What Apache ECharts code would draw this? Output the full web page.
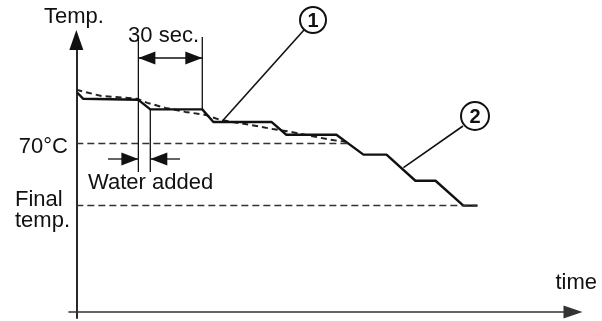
<!DOCTYPE html>
<html>
<head>
<meta charset="utf-8">
<script src="https://cdn.jsdelivr.net/npm/echarts@6/dist/echarts.min.js"></script>
<style>
html,body{margin:0;padding:0;background:#fff}
#chart{width:602px;height:321px}
</style>
</head>
<body>
<div id="chart"></div>
<script>
// time in seconds, temperature in °C
var stepTime = [0.5, 3.3, 29.6, 35.3, 60.1, 65.4, 93.1, 100.2, 124.1, 137.0, 148.0, 161.8, 171.4, 184.7, 191.4];
var stepTemp = [80.0, 78.8, 78.6, 76.7, 76.7, 74.2, 74.2, 71.65, 71.65, 67.7, 67.7, 62.5, 62.5, 57.55, 57.55];
var smoothTime = [0, 11.5, 29.1, 33.9, 42.5, 52.0, 61.6, 68.7, 83.1, 93.6, 102.1, 114.1, 121.2, 128.4];
var smoothTemp = [80.6, 79.4, 78.8, 78.0, 77.0, 76.2, 75.6, 74.6, 73.6, 72.8, 72.25, 71.25, 70.65, 70.26];
var refTemp = 70, refEnd = 129.4;         // 70°C line
var finalTemp = 57.55, finalEnd = 191.4;  // final temp. line
var secMarks = [29.6, 60.1];              // 30 sec.
var waterMarks = [29.6, 35.3];            // water added
var leader1 = [69.7, 74.4];               // where ① points
var leader2 = [156.1, 65.1];              // where ② points

function pairs(xs, ys) {
	var out = [];
	for (var i = 0; i < xs.length; i++) out.push([xs[i], ys[i]]);
	return out;
}

var FONT = '"Liberation Sans", Arial, sans-serif';
var INK = '#111';

var chart = echarts.init(document.getElementById('chart'));
var option = {
	animation: false,
	grid: { left: 69, right: 29, top: 40, bottom: 3 },
	xAxis: {
		type: 'value', min: -3.5, max: 237,
		offset: -6,
		axisLine: { lineStyle: { color: '#333', width: 1.6 }, symbol: ['none', 'triangle'], symbolSize: [13, 19] },
		axisTick: { show: false }, axisLabel: { show: false }, splitLine: { show: false }
	},
	yAxis: {
		type: 'value', min: 35.2, max: 90.5,
		axisLine: { onZero: true, lineStyle: { color: INK, width: 1.8 }, symbol: ['none', 'triangle'], symbolSize: [14, 20] },
		axisTick: { show: false }, axisLabel: { show: false }, splitLine: { show: false }
	},
	series: [
		{
			name: '1', type: 'line', data: pairs(smoothTime, smoothTemp),
			showSymbol: false, silent: true, z: 3,
			lineStyle: { color: '#222', width: 2, type: [6, 4] },
			markLine: {
				silent: true, symbol: 'none', label: { show: false },
				lineStyle: { color: '#333', width: 1.3, type: [7, 4] },
				data: [
					[{ coord: [0, refTemp] }, { coord: [refEnd, refTemp] }],
					[{ coord: [0, finalTemp] }, { coord: [finalEnd, finalTemp] }]
				]
			}
		},
		{
			name: '2', type: 'line', data: pairs(stepTime, stepTemp),
			showSymbol: false, silent: true, z: 4,
			lineStyle: { color: INK, width: 2.4 }
		}
	]
};
chart.setOption(option);

function px(t, v) { return chart.convertToPixel({ gridIndex: 0 }, [t, v]); }
function txt(s, x, y, align) {
	return { type: 'text', style: { text: s, x: x, y: y, fontFamily: FONT, fontSize: 22, fill: INK, align: align || 'left', verticalAlign: 'middle' }, z: 10 };
}
function seg(x1, y1, x2, y2, w) {
	return { type: 'line', shape: { x1: x1, y1: y1, x2: x2, y2: y2 }, style: { stroke: INK, lineWidth: w || 1.3 }, z: 9 };
}
// dir -1 points left, +1 points right
function head(tipX, y, dir) {
	var len = 17, hw = 6.5;
	return { type: 'polygon', shape: { points: [[tipX, y], [tipX - dir * len, y - hw], [tipX - dir * len, y + hw]] }, style: { fill: INK }, z: 9 };
}
function ring(cx, cy, r, label) {
	return [
		{ type: 'circle', shape: { cx: cx, cy: cy, r: r }, style: { fill: '#fff', stroke: INK, lineWidth: 2 }, z: 11 },
		{ type: 'text', style: { text: label, x: cx, y: cy + 1, fontFamily: FONT, fontSize: 20, fontWeight: 'bold', fill: INK, align: 'center', verticalAlign: 'middle' }, z: 12 }
	];
}

var sA = px(secMarks[0], 0)[0], sB = px(secMarks[1], 0)[0];
var wA = px(waterMarks[0], 0)[0], wB = px(waterMarks[1], 0)[0];
var stepB = px(secMarks[1], 76.7)[1];
var stepW = px(waterMarks[1], 76.7)[1];
var p1 = px(leader1[0], leader1[1]);
var p2 = px(leader2[0], leader2[1]);
var arrowY = 58, waterY = 159;

var g = [
	txt('Temp.', 44, 17),
	txt('30 sec.', 199, 36, 'right'),
	txt('70°C', 68, 147, 'right'),
	txt('Final', 15, 200),
	txt('temp.', 15, 221),
	txt('Water added', 88, 183),
	txt('time', 597, 283, 'right'),
	// 30 sec. dimension
	seg(sA, 37, sA, 172),
	seg(sB, 37, sB, stepB),
	seg(sA, arrowY, sB, arrowY),
	head(sA, arrowY, -1),
	head(sB, arrowY, 1),
	// water added dimension
	seg(wB, stepW, wB, 172),
	seg(108, waterY, wA, waterY),
	seg(wB, waterY, 180, waterY),
	head(wA, waterY, 1),
	head(wB, waterY, -1),
	// leaders
	seg(304, 30, p1[0], p1[1], 1.6),
	seg(463, 126, p2[0], p2[1], 1.6)
].concat(ring(313, 20, 13, '1'), ring(475, 116, 14, '2'));

chart.setOption({ graphic: g });
</script>
</body>
</html>
